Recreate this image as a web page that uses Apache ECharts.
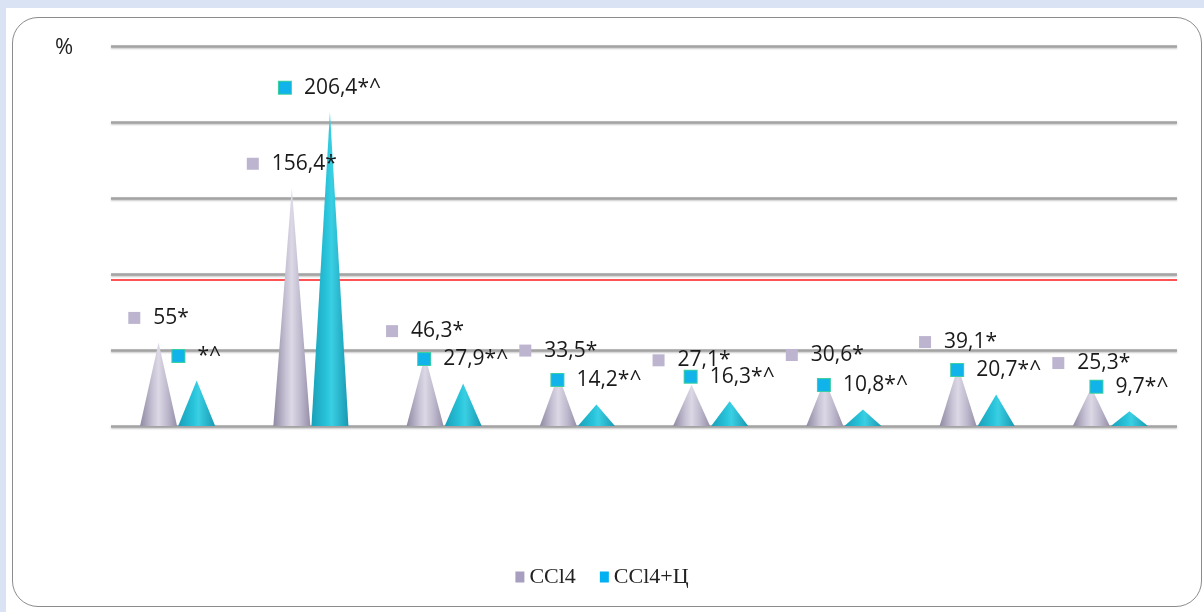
<!DOCTYPE html>
<html>
<head>
<meta charset="utf-8">
<script src="https://cdn.jsdelivr.net/npm/echarts@6/dist/echarts.min.js"></script>
<style>
html,body{margin:0;padding:0;background:#dae3f3;}
#wrap{position:absolute;left:6px;top:8px;width:1198px;height:604px;background:#fff;}
#frame{position:absolute;left:12px;top:17px;width:1190px;height:590px;border:1.5px solid #8c8c8c;border-radius:26px;box-sizing:border-box;}
#chart{position:absolute;left:0;top:0;width:1204px;height:612px;}
</style>
</head>
<body>
<div id="wrap"></div>
<div id="frame"></div>
<div id="chart"></div>
<script>
const categories = ['1','2','3','4','5','6','7','8'];
const seriesNames = ['CCl4', 'CCl4+Ц'];
const valuesCCl4 = [55, 156.4, 46.3, 33.5, 27.1, 30.6, 39.1, 25.3];
const valuesCCl4C = [30, 206.4, 27.9, 14.2, 16.3, 10.8, 20.7, 9.7];
const labelsCCl4 = ['55*', '156,4*', '46,3*', '33,5*', '27,1*', '30,6*', '39,1*', '25,3*'];
const labelsCCl4C = ['*^', '206,4*^', '27,9*^', '14,2*^', '16,3*^', '10,8*^', '20,7*^', '9,7*^'];
const controlLevel = 96;
const yTicks = [0, 50, 100, 150, 200, 250];

const chart = echarts.init(document.getElementById('chart'), null, {renderer: 'canvas'});

const grayGrad = new echarts.graphic.LinearGradient(0, 0, 1, 0, [
  {offset: 0, color: '#8f88a2'},
  {offset: 0.35, color: '#c9c4d6'},
  {offset: 0.5, color: '#dcd8e5'},
  {offset: 0.75, color: '#bdb7cc'},
  {offset: 1, color: '#958ea8'}
]);
const cyanGrad = new echarts.graphic.LinearGradient(0, 0, 1, 0, [
  {offset: 0, color: '#1a9fb8'},
  {offset: 0.4, color: '#27c3da'},
  {offset: 0.55, color: '#3acfe3'},
  {offset: 1, color: '#1899b2'}
]);

function labelCfg(texts, markerStyle) {
  return {
    show: true,
    position: 'top',
    distance: 14,
    formatter: p => '{m| }{gap|}{t|' + texts[p.dataIndex] + '}',
    rich: {
      m: Object.assign({width: 12, height: 12}, markerStyle),
      gap: {width: 13},
      t: {fontFamily: 'Open Sans', fontSize: 21, color: '#1a1a1a'}
    }
  };
}

chart.setOption({
  animation: false,
  title: {text: '%', left: 50, top: 32, textStyle: {fontFamily: 'Open Sans', fontSize: 22, fontWeight: 'normal', color: '#222'}},
  legend: {
    bottom: 19,
    left: 'center',
    itemWidth: 9,
    itemHeight: 11,
    itemGap: 24,
    textStyle: {fontFamily: 'Liberation Serif', fontSize: 22, color: '#222'},
    data: [
      {name: seriesNames[0], icon: 'rect', itemStyle: {color: '#a89fc0'}},
      {name: seriesNames[1], icon: 'rect', itemStyle: {color: '#00b0f0'}}
    ]
  },
  grid: {left: 111, right: 27, top: 46, bottom: 186},
  xAxis: {
    type: 'category', data: categories,
    axisLine: {show: false}, axisTick: {show: false}, axisLabel: {show: false}
  },
  yAxis: {
    type: 'value', min: yTicks[0], max: yTicks[yTicks.length - 1], interval: 50,
    axisLine: {show: false}, axisTick: {show: false}, axisLabel: {show: false},
    splitLine: {lineStyle: {color: '#a3a3a3', width: 2.5, shadowColor: 'rgba(0,0,0,0.25)', shadowBlur: 2, shadowOffsetY: 1}}
  },
  series: [
    {
      name: seriesNames[0], type: 'pictorialBar', symbol: 'triangle',
      symbolSize: [37, '100%'], barWidth: 37, barGap: '3%',
      data: valuesCCl4,
      itemStyle: {color: grayGrad},
      label: labelCfg(labelsCCl4, {backgroundColor: '#bdb5cf'}),
      z: 3,
      markLine: {
        silent: true, symbol: 'none', label: {show: false},
        lineStyle: {color: '#ff1a1a', width: 1.5, type: 'solid'},
        data: [{yAxis: controlLevel}],
        z: 2
      }
    },
    {
      name: seriesNames[1], type: 'pictorialBar', symbol: 'triangle',
      symbolSize: [37, '100%'], barWidth: 37, barGap: '3%',
      data: valuesCCl4C,
      itemStyle: {color: cyanGrad},
      label: labelCfg(labelsCCl4C, {backgroundColor: '#10b4ea', borderColor: '#3fd0a0', borderWidth: 1}),
      z: 3
    }
  ]
});
</script>
</body>
</html>
